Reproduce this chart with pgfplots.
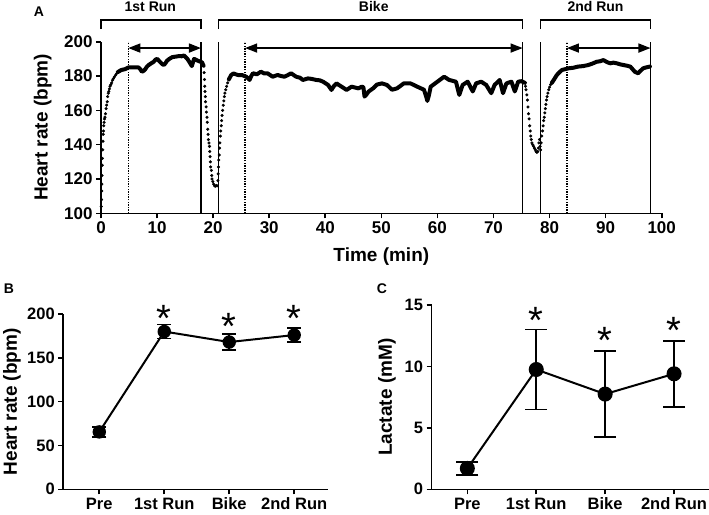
\documentclass[border=0pt]{standalone}
\usepackage{fontspec}
\setmainfont{Liberation Sans}
\usepackage{pgfplots}
\pgfplotsset{compat=1.18}
\usetikzlibrary{arrows.meta}

\pgfplotsset{
  gp/.style={
    scale only axis,
    anchor=south west,
    axis x line*=bottom, axis y line*=left,
    axis line style={line width=1.6pt},
    tick align=outside, major tick length=5pt,
    tick style={line width=1.6pt, black},
    minor tick num=0,
    tick label style={font=\bfseries\fontsize{17}{20}\selectfont},
    /pgf/number format/assume math mode=true,
    label style={font=\bfseries\fontsize{19}{22}\selectfont},
    clip=false,
  },
  summ/.style={line width=2pt, mark=*,
    error bars/.cd, y dir=both, y explicit,
    error bar style={line width=1.8pt},
    error mark options={rotate=90, line width=1.8pt, mark size=#1}},
}
\newcommand\sig[1]{\node[anchor=north, inner sep=0pt, font=\fontsize{38}{38}\selectfont] at (#1) {*};}

\begin{document}
\begin{tikzpicture}
\useasboundingbox (0pt,0pt) rectangle (709pt,-514pt);

% A: heart rate over the race
\begin{axis}[gp, at={(101pt,-213.3pt)}, width=560.7pt, height=171.6pt,
  xmin=0, xmax=100, ymin=100, ymax=200,
  xtick={0,10,...,100}, ytick={100,120,...,200},
  xlabel={Time (min)}, ylabel={Heart rate (bpm)},
  xlabel style={at={(axis description cs:0.5,-0.255)}, anchor=center},
  ylabel style={at={(axis description cs:-0.104,0.5)}, anchor=center}]
% transitions (separate dots)
\addplot[only marks, mark=*, mark size=1.35pt] coordinates {
(0.05,104)(0.1,108)(0.12,113)(0.15,117)(0.18,122)(0.22,128)(0.25,132)(0.3,137)(0.35,142)(0.4,146)
(0.45,148)(0.5,151)(0.55,153)(0.62,155)(0.7,156)(0.8,158)(0.9,161)(1.0,163)(1.1,165)(1.2,168)
(1.3,170)(1.4,171)(1.5,172.5)(1.6,174)(1.75,175)(1.9,176)(2.05,177.5)(2.2,178.5)(2.4,179.5)(2.6,180.5)
(2.8,181.5)(3.0,182.3)
(18.3,186)(18.4,182)(18.45,178)(18.5,174)(18.55,171)(18.6,168)(18.65,165)(18.75,162)(18.8,159)(18.9,156)
(18.95,153)(19.05,149)(19.1,146)(19.15,143)(19.25,141)(19.35,139)(19.4,136)(19.45,133)(19.5,130)(19.55,127)
(19.7,125)(19.75,122)(19.8,120)(19.95,118.5)(20.1,117)(20.25,116)(20.4,115.8)(20.55,116.2)(20.7,116)
(20.85,119)(20.9,123)(20.95,127)(21.0,131)(21.1,134)(21.15,138)(21.2,141)(21.3,145)(21.35,148)(21.45,151)
(21.5,154)(21.6,157)(21.7,160)(21.8,163)(21.9,165.5)(22.0,168)(22.1,170)(22.25,172)(22.4,174)(22.6,176)(22.8,178)
(75.7,174)(75.8,172)(75.95,169)(76.05,166)(76.15,162)(76.25,158)(76.35,155)(76.45,151)(76.55,148)(76.65,145)
(76.75,143)(76.85,141)(77.0,140)(77.15,139)(77.3,138)(77.45,137)(77.6,136)(77.75,135.5)(77.9,136)(78.0,138)
(78.1,141)(78.2,143)(78.3,139)(78.4,137)(78.5,141)(78.6,145)(78.75,148)(78.85,151)(78.95,154)(79.05,156)
(79.15,158.5)(79.25,161)(79.35,163.5)(79.45,166)(79.55,168)(79.7,170)(79.85,172)(80.0,173.5)(80.2,175)(80.4,176)
};
% steady parts (dense dots, drawn as a thick trace)
\pgfplotsset{trace/.style={line width=4pt, line join=round, line cap=round}}
\addplot[trace] coordinates {
(3.0,182.3)(3.6,183.5)(4.3,184)(4.9,185)(5.5,185)(6.2,185)(6.7,185)(7.0,184)(7.3,182.5)(7.6,183)
(7.9,184)(8.2,185.5)(8.5,186.4)(9.0,187.5)(9.4,188.3)(9.7,189.5)(10.0,190)(10.3,189)(10.6,188)(10.9,187)
(11.2,186.4)(11.5,187.5)(11.8,189)(12.2,190)(12.7,191)(13.3,191.3)(13.9,191.6)(14.4,191.5)(14.8,192)(15.1,191)
(15.4,190)(15.8,188)(16.2,185.8)(16.4,188)(16.6,190)(16.9,189.5)(17.2,189)(17.6,188.5)(18.0,188)(18.3,186)
};
\addplot[trace] coordinates {
(22.8,178)(23.2,180.5)(23.6,181.5)(24.4,180.6)(25.2,180.5)(25.9,179.6)(26.3,178.5)(26.5,177.7)(26.8,180)(27.1,181.6)
(27.8,181)(28.5,182.5)(29.1,181.5)(29.7,181.6)(30.6,179.6)(31.5,180.6)(32.1,180)(32.7,179.6)(33.3,180.5)(33.9,181.6)
(34.8,179.6)(35.5,179)(36.0,177.7)(36.9,178.6)(37.6,178.3)(38.4,177.7)(39.0,177.5)(39.6,176.7)(40.5,174.8)(41.1,171.9)
(41.5,174)(42.0,175.7)(42.9,173.8)(43.8,171.9)(44.7,173.8)(45.9,172.8)(46.5,173.8)(46.8,173.5)(47.0,168)(47.3,169)
(47.7,170.9)(48.6,173)(49.2,175)(50.1,175.7)(51.0,174.8)(51.9,172)(52.8,172.8)(54.0,175.7)(55.2,175.7)(56.4,173.8)
(57.6,172)(58.0,168)(58.2,165.5)(58.5,169)(58.8,173.8)(60.0,176.7)(61.2,179.6)(62.1,177.7)(63.3,176.7)(63.9,169)
(64.5,174.8)(65.4,176.7)(66.3,171)(66.9,175.7)(67.8,176.7)(68.7,174.8)(69.6,170)(70.2,174.8)(71.1,177.7)(71.7,170)
(72.3,175.7)(73.2,176.7)(73.8,171)(74.4,176.7)(75.0,177)(75.6,176)
};
\addplot[trace] coordinates {
(80.4,176)(80.8,178)(81.3,180.6)(81.8,182.3)(82.2,183.5)(82.8,184)(83.4,184.5)(84.2,184.8)(85.1,185.5)(86.0,185.8)
(86.9,186.4)(87.6,187.2)(88.4,188.3)(89.0,188.6)(89.6,189.3)(90.2,188.2)(90.8,187.4)(91.4,187.8)(92.0,187.4)(92.6,186.8)
(93.2,186.4)(93.8,186)(94.4,185.5)(94.8,184)(95.2,182.5)(95.8,181.6)(96.2,183)(96.7,184.5)(97.2,185)(97.9,185.5)
};
% segment markers
\draw[line width=1.5pt] (axis cs:17.83,100) -- (axis cs:17.83,200)
  (axis cs:20.92,100) -- (axis cs:20.92,200)
  (axis cs:75.2,100) -- (axis cs:75.2,200)
  (axis cs:78.35,100) -- (axis cs:78.35,200)
  (axis cs:98,100) -- (axis cs:98,200);
\draw[line width=1.3pt, dash pattern=on 1.3pt off 1.3pt] (axis cs:4.87,100) -- (axis cs:4.87,200)
  (axis cs:25.7,100) -- (axis cs:25.7,200)
  (axis cs:83.1,100) -- (axis cs:83.1,200);
\draw[line width=1.5pt, {Triangle[length=12pt,width=9pt]}-{Triangle[length=12pt,width=9pt]}]
  (axis cs:4.87,196.3) -- (axis cs:17.83,196.3);
\draw[line width=1.5pt, {Triangle[length=12pt,width=9pt]}-{Triangle[length=12pt,width=9pt]}]
  (axis cs:25.7,196.3) -- (axis cs:75.2,196.3);
\draw[line width=1.5pt, {Triangle[length=12pt,width=9pt]}-{Triangle[length=12pt,width=9pt]}]
  (axis cs:83.1,196.3) -- (axis cs:98,196.3);
\draw[line width=1.5pt] (axis cs:0,207.4) |- (axis cs:17.83,212.6) -- (axis cs:17.83,207.4);
\draw[line width=1.5pt] (axis cs:20.92,207.4) |- (axis cs:75.2,212.6) -- (axis cs:75.2,207.4);
\draw[line width=1.5pt] (axis cs:78.35,207.4) |- (axis cs:98,212.6) -- (axis cs:98,207.4);
\begin{scope}[every node/.style={font=\bfseries\fontsize{14}{14}\selectfont}]
\node at (axis cs:8.8,220.4) {1st Run};
\node at (axis cs:48.65,220.4) {Bike};
\node at (axis cs:88.2,220.4) {2nd Run};
\end{scope}
\end{axis}

% B: heart rate per stage
\begin{axis}[gp, at={(63.3pt,-489.3pt)}, width=264.7pt, height=175.3pt,
  xmin=-0.554, xmax=3.52, ymin=0, ymax=200,
  xtick={0,1,2,3}, xticklabels={Pre,1st Run,Bike,2nd Run}, ytick={0,50,...,200},
  tick label style={font=\bfseries\fontsize{16.5}{20}\selectfont},
  ylabel={Heart rate (bpm)},
  ylabel style={at={(axis description cs:-0.194,0.5)}, anchor=center}]
\addplot[mark size=5.7pt, summ=7pt] coordinates {(0,65.5) +- (0,5.5) (1,180) +- (0,8) (2,168) +- (0,9) (3,176) +- (0,8)};
\sig{axis cs:1,210.2}
\sig{axis cs:2,201.4}
\sig{axis cs:3,210.2}
\end{axis}

% C: lactate per stage
\begin{axis}[gp, at={(431.5pt,-489.3pt)}, width=277pt, height=184.3pt,
  xmin=-0.52, xmax=3.5, ymin=0, ymax=15,
  xtick={0,1,2,3}, xticklabels={Pre,1st Run,Bike,2nd Run}, ytick={0,5,10,15},
  tick label style={font=\bfseries\fontsize{16.5}{20}\selectfont},
  ylabel={Lactate (mM)},
  ylabel style={at={(axis description cs:-0.161,0.5)}, anchor=center}]
\addplot[mark size=6.5pt, summ=11pt] coordinates {(0,1.7) +- (0,0.55) (1,9.75) +- (0,3.25) (2,7.75) +- (0,3.5) (3,9.4) +- (0,2.7)};
\sig{axis cs:1,14.86}
\sig{axis cs:2,13.23}
\sig{axis cs:3,14.04}
\end{axis}

\begin{scope}[every node/.style={font=\bfseries\fontsize{14}{14}\selectfont}]
\node at (39pt,-12pt) {A};
\node at (9pt,-289pt) {B};
\node at (382pt,-289pt) {C};
\end{scope}
\end{tikzpicture}
\end{document}
